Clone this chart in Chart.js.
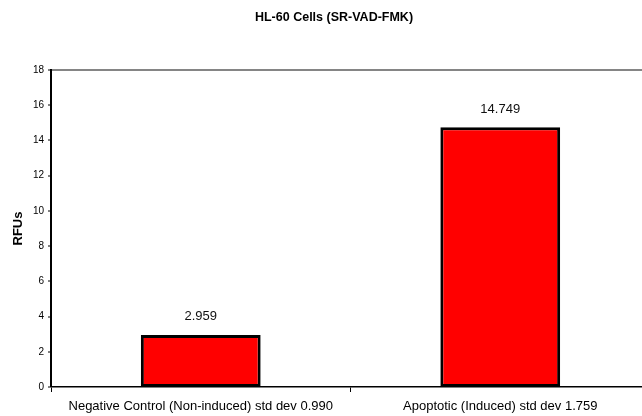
<!DOCTYPE html>
<html>
<head>
<meta charset="utf-8">
<script src="https://cdn.jsdelivr.net/npm/chart.js@4/dist/chart.umd.min.js"></script>
<style>
html,body{margin:0;padding:0;background:#fff;overflow:hidden;width:642px;height:416px;}
#wrap{width:652px;height:416px;position:relative;}
</style>
</head>
<body>
<div id="wrap"><canvas id="c" width="652" height="416"></canvas></div>
<script>
const categories = ["Negative Control (Non-induced) std dev 0.990", "Apoptotic (Induced) std dev 1.759"];
const rfuValues = [2.959, 14.749];
const valueLabels = ["2.959", "14.749"];
const chartTitle = "HL-60 Cells (SR-VAD-FMK)";
const yTitle = "RFUs";

const FONT = "'Liberation Sans', Arial, sans-serif";

const titlePlugin = {
  id: 'customTitle',
  afterDraw(chart) {
    const ctx = chart.ctx;
    ctx.save();
    ctx.font = "bold 12.5px " + FONT;
    ctx.fillStyle = "#000";
    ctx.textAlign = "center";
    ctx.textBaseline = "middle";
    ctx.fillText(chartTitle, 334, 18);
    ctx.restore();
  }
};

const labelPlugin = {
  id: 'valueLabels',
  afterDatasetsDraw(chart) {
    const ctx = chart.ctx;
    const meta = chart.getDatasetMeta(0);
    ctx.save();
    ctx.font = "13px " + FONT;
    ctx.fillStyle = "#111";
    ctx.textAlign = "center";
    ctx.textBaseline = "middle";
    meta.data.forEach((bar, i) => {
      ctx.fillText(valueLabels[i], bar.x, bar.y - 18);
    });
    ctx.restore();
  }
};

new Chart(document.getElementById('c'), {
  type: 'bar',
  data: {
    labels: categories,
    datasets: [{
      data: rfuValues,
      backgroundColor: '#ff0000',
      borderColor: '#000000',
      borderWidth: 3,
      borderSkipped: false,
      categoryPercentage: 1.0,
      barPercentage: 0.4
    }]
  },
  options: {
    responsive: false,
    animation: false,
    devicePixelRatio: 1,
    layout: { padding: { top: 70, right: 2, left: 0, bottom: 0 } },
    plugins: {
      legend: { display: false },
      title: { display: false },
      tooltip: { enabled: false }
    },
    scales: {
      x: {
        grid: {
          display: true,
          offset: true,
          color: 'rgba(0,0,0,0)',
          drawTicks: true,
          tickLength: 5,
          tickColor: '#000',
          tickWidth: 1
        },
        border: { display: true, color: '#000', width: 1.5 },
        ticks: {
          color: '#000',
          font: { family: FONT, size: 13 },
          padding: 7,
          maxRotation: 0,
          autoSkip: false
        },
        afterFit(scale) { scale.height = 29; }
      },
      y: {
        min: 0,
        max: 18,
        ticks: {
          stepSize: 2,
          color: '#000',
          font: { family: FONT, size: 10 },
          padding: 4
        },
        grid: {
          display: true,
          color: (ctx) => ctx.tick && ctx.tick.value === 18 ? '#858585' : 'rgba(0,0,0,0)',
          lineWidth: (ctx) => ctx.tick && ctx.tick.value === 18 ? 2 : 0,
          drawTicks: true,
          tickLength: 3,
          tickColor: '#000',
          tickWidth: 1
        },
        border: { display: true, color: '#000', width: 2 },
        title: {
          display: true,
          text: yTitle,
          color: '#000',
          font: { family: FONT, size: 13, weight: 'bold' },
          padding: { top: 11, bottom: 0 }
        },
        afterFit(scale) { scale.width = 51; }
      }
    }
  },
  plugins: [titlePlugin, labelPlugin]
});
</script>
</body>
</html>
